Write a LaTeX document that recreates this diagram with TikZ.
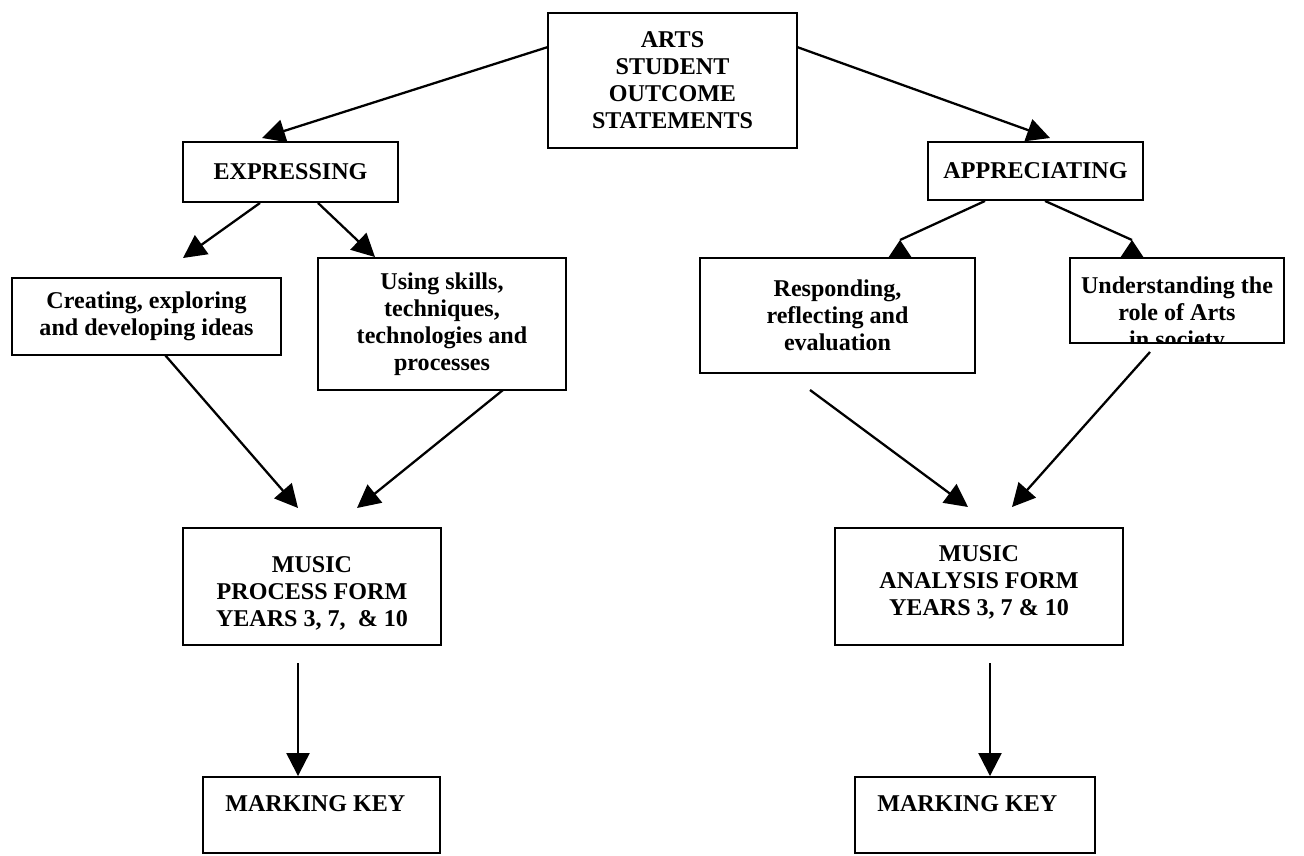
\documentclass[tikz,border=0pt]{standalone}
\usepackage{fontspec}
\setmainfont{Liberation Serif}
\usetikzlibrary{arrows.meta, backgrounds, positioning}
\tikzset{
	>={Triangle[length=0.46cm, width=0.46cm]}, % puntas grandes y rellenas
	box/.style={draw, line width=1.1pt, inner sep=0pt, align=center, font=\bfseries\fontsize{13.7}{15.4}\selectfont}, % cajas
	txt/.style={inner sep=0pt, align=center, font=\bfseries\fontsize{13.7}{15.4}\selectfont}, % textos sueltos
	link/.style={->, line width=1.3pt}, % flechas
	uphead/.style={fill=black} % puntas cortadas por la caja
}

\begin{document}
\begin{tikzpicture}[x=0.02cm, y=-0.02cm]
	\useasboundingbox (0,0) rectangle (1304,855);
	% nivel superior
	\node[box, minimum width=4.98cm, minimum height=2.7cm] (top) at (672.5,80.5) {ARTS\\STUDENT\\OUTCOME\\STATEMENTS};
	\node[box, minimum width=4.3cm, minimum height=1.2cm] (expr) at (290.5,172) {EXPRESSING};
	\node[box, minimum width=4.3cm, minimum height=1.16cm] (appr) at (1035.5,171) {APPRECIATING};
	% segundo nivel
	\node[box, minimum width=5.38cm, minimum height=1.54cm] (creat) at (146.5,316.5) {Creating, exploring\\and developing ideas};
	\node[box, minimum width=4.96cm, minimum height=2.64cm] (using) at (442,324) {Using skills,\\techniques,\\technologies and\\processes};
	\node[box, minimum width=5.5cm, minimum height=2.3cm] (resp) at (837.5,315.5) {Responding,\\reflecting and\\evaluation};
	\node[box, minimum width=4.28cm, minimum height=1.7cm,
		path picture={\node[txt, anchor=north] at ([yshift=-0.26cm]path picture bounding box.north) {Understanding the\\role of Arts\\in society};}] (und) at (1177,300.5) {};
	% formularios
	\node[box, minimum width=5.16cm, minimum height=2.34cm] (proc) at (312,586.5) {};
	\node[txt, anchor=north] (procT) at (312,556) {MUSIC\\PROCESS FORM\\YEARS 3, 7,\ \ \& 10};
	\node[box, minimum width=5.76cm, minimum height=2.34cm] (ana) at (979,586.5) {};
	\node[txt, anchor=north] (anaT) at (979,545) {MUSIC\\ANALYSIS FORM\\YEARS 3, 7 \& 10};
	% claves de corrección
	\node[box, minimum width=4.74cm, minimum height=1.52cm] (markL) at (321.5,815) {};
	\node[txt, anchor=base west] (markLT) at (225,811) {MARKING KEY};
	\node[box, minimum width=4.8cm, minimum height=1.52cm] (markR) at (975,815) {};
	\node[txt, anchor=base west] (markRT) at (877,811) {MARKING KEY};
	% puntos libres de las flechas
	\coordinate (topL) at (548,47);
	\coordinate (topR) at (797,47);
	\coordinate (exprTip) at (262,138);
	\coordinate (apprTip) at (1050,138);
	\coordinate (creatTip) at (183,258);
	\coordinate (creatOut) at (165,355);
	\coordinate (usingOut) at (503,390);
	\coordinate (procInL) at (298,508);
	\coordinate (procInR) at (357,508);
	\coordinate (respOut) at (810,390);
	\coordinate (undOut) at (1150,352);
	\coordinate (anaInL) at (968,507);
	\coordinate (anaInR) at (1012,507);
	\coordinate (procOut) at (298,663);
	\coordinate (anaOut) at (990,663);
	\coordinate (respTip) at (900,240);
	\coordinate (undTip) at (1132,240);
	% flechas
	\draw[link] (topL) -- (exprTip);
	\draw[link] (topR) -- (apprTip);
	\draw[link] (expr.south -| 260,0) -- (creatTip);
	\draw[link] (expr.south -| 318,0) -- (using.north -| 375,0);
	\draw[line width=1.3pt] (appr.south -| 985,0) -- (respTip);
	\draw[line width=1.3pt] (appr.south -| 1045,0) -- (undTip);
	\fill[uphead] (respTip) -- ++(-12,18) -- ++(24,0) -- cycle;
	\fill[uphead] (undTip) -- ++(-12,18) -- ++(24,0) -- cycle;
	\draw[link] (creatOut) -- (procInL);
	\draw[link] (usingOut) -- (procInR);
	\draw[link] (respOut) -- (anaInL);
	\draw[link] (undOut) -- (anaInR);
	\draw[link] (procOut) -- (procOut |- markL.north);
	\draw[link] (anaOut) -- (anaOut |- markR.north);
\end{tikzpicture}
\end{document}
